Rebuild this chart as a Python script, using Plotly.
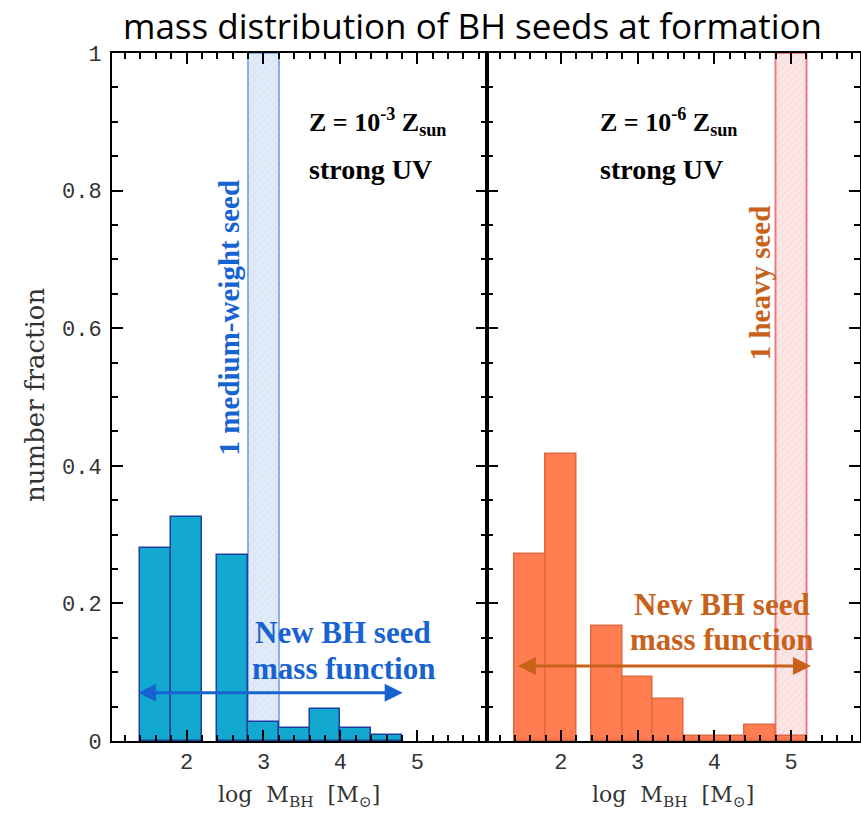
import plotly.graph_objects as go

# --- data -------------------------------------------------------------
bin_width = 0.4

# Z = 1e-3 Zsun, strong UV
left_bin_lo = [1.4, 1.8, 2.4, 2.8, 3.2, 3.6, 4.0, 4.4]
left_frac = [0.280, 0.326, 0.271, 0.028, 0.019, 0.046, 0.019, 0.009]
left_band = [2.8, 3.2]            # single medium-weight seed
left_arrow = [1.35, 4.81, 0.070]  # x from, x to, y

# Z = 1e-6 Zsun, strong UV
right_bin_lo = [1.4, 1.8, 2.4, 2.8, 3.2, 3.6, 4.0, 4.4, 4.8]
right_frac = [0.272, 0.417, 0.167, 0.093, 0.061, 0.008, 0.008, 0.023, 0.008]
right_band = [4.8, 5.2]           # single heavy seed
right_arrow = [1.42, 5.26, 0.109]

x_range = [1.03, 5.9]
y_range = [0, 1]

# --- styles -----------------------------------------------------------
W, H = 861, 814
BLUE_BAR = "#12a8cf"
BLUE_EDGE = "#1e3f9e"
BLUE_TXT = "#1763d1"
BLUE_BAND = "#dde9f7"
BLUE_BAND_EDGE = "#7ea8e3"
ORANGE_BAR = "#ff7d50"
ORANGE_EDGE = "#e0683f"
ORANGE_TXT = "#c8621b"
PINK_BAND = "#fbe4e4"
PINK_BAND_EDGE = "#ec6a72"

SERIF = "Liberation Serif"
AXSERIF = "DejaVu Serif"
TICKFONT = dict(family="Liberation Mono", size=22, color="#333")


def px_x(p):
    return p / W


def px_y(p):
    return 1 - p / H


fig = go.Figure()


def add_panel(xa, ya, lo, frac, band, band_fill, band_edge, bar_fill, bar_edge):
    # shaded band marking the single massive seed
    fig.add_trace(go.Bar(
        x=[(band[0] + band[1]) / 2], y=[y_range[1]], width=[band[1] - band[0]],
        xaxis=xa, yaxis=ya,
        marker=dict(color=band_fill, line=dict(color=band_edge, width=2),
                    pattern=dict(shape="/", fgcolor=band_edge, bgcolor=band_fill,
                                 size=5, solidity=0.08)),
        opacity=0.9, showlegend=False, hoverinfo="skip"))
    # histogram of seed masses
    fig.add_trace(go.Bar(
        x=[v + bin_width / 2 for v in lo], y=frac, width=[bin_width] * len(lo),
        xaxis=xa, yaxis=ya,
        marker=dict(color=bar_fill, line=dict(color=bar_edge, width=1.5)),
        showlegend=False))


add_panel("x", "y", left_bin_lo, left_frac, left_band,
          BLUE_BAND, BLUE_BAND_EDGE, BLUE_BAR, BLUE_EDGE)
add_panel("x2", "y2", right_bin_lo, right_frac, right_band,
          PINK_BAND, PINK_BAND_EDGE, ORANGE_BAR, ORANGE_EDGE)

x_common = dict(range=x_range, tick0=0, dtick=1, ticks="inside", ticklen=11,
                tickwidth=1.5, tickcolor="black", showline=True, linewidth=2,
                linecolor="black", mirror="allticks", showgrid=False,
                zeroline=False, tickfont=TICKFONT, automargin=False,
                minor=dict(dtick=0.2, tick0=0, ticks="inside", ticklen=6,
                           tickwidth=1.5, tickcolor="black"))
y_common = dict(range=y_range, tick0=0, dtick=0.2, ticks="inside", ticklen=11,
                tickwidth=1.5, tickcolor="black", showline=True, linewidth=2,
                linecolor="black", mirror="allticks", showgrid=False,
                zeroline=False, tickfont=TICKFONT, automargin=False,
                minor=dict(dtick=0.05, tick0=0, ticks="inside", ticklen=6,
                           tickwidth=1.5, tickcolor="black"))

y_dom = [px_y(741), px_y(53)]
fig.update_layout(
    width=W, height=H, margin=dict(l=0, r=0, t=0, b=0, pad=0, autoexpand=False),
    paper_bgcolor="white", plot_bgcolor="white",
    barmode="overlay", bargap=0,
    xaxis=dict(domain=[px_x(112), px_x(486.5)], anchor="y", **x_common),
    yaxis=dict(domain=y_dom, anchor="x", ticklabelstandoff=4, **y_common),
    xaxis2=dict(domain=[px_x(486.5), px_x(860)], anchor="y2", **x_common),
    yaxis2=dict(domain=y_dom, anchor="x2", showticklabels=False, **y_common),
)

ann = []
# title
ann.append(dict(text="mass distribution of BH seeds at formation", xref="paper",
                yref="paper", x=px_x(472), y=px_y(26), xanchor="center",
                yanchor="middle", showarrow=False,
                font=dict(family="Open Sans", size=35, color="black")))
# axis titles
ann.append(dict(text="number fraction", xref="paper", yref="paper",
                x=px_x(35), y=px_y(395), xanchor="center", yanchor="middle",
                textangle=-90, showarrow=False,
                font=dict(family=AXSERIF, size=26, color="#333")))
for xd in ["x domain", "x2 domain"]:
    ann.append(dict(text="log  M<sub>BH</sub>  [M<sub>⊙</sub>]", xref=xd,
                    yref="paper", x=0.5, y=px_y(796), xanchor="center",
                    yanchor="middle", showarrow=False,
                    font=dict(family=AXSERIF, size=22, color="#333")))

# panel labels
for xa, ya, x0, metal in [("x", "y", 3.57, "-3"), ("x2", "y2", 2.49, "-6")]:
    ann.append(dict(text=f"<b>Z = 10<sup>{metal}</sup> Z<sub>sun</sub></b>",
                    xref=xa, yref=ya, x=x0, y=0.90, xanchor="left",
                    yanchor="middle", showarrow=False,
                    font=dict(family=SERIF, size=26, color="black")))
    ann.append(dict(text="<b>strong UV</b>", xref=xa, yref=ya, x=x0, y=0.83,
                    xanchor="left", yanchor="middle", showarrow=False,
                    font=dict(family=SERIF, size=28, color="black")))

# vertical seed labels
ann.append(dict(text="<b>1 medium-weight seed</b>", xref="x", yref="y",
                x=2.545, y=0.615, xanchor="center", yanchor="middle",
                textangle=-90, showarrow=False,
                font=dict(family=SERIF, size=29, color=BLUE_TXT)))
ann.append(dict(text="<b>1 heavy seed</b>", xref="x2", yref="y2",
                x=4.59, y=0.666, xanchor="center", yanchor="middle",
                textangle=-90, showarrow=False,
                font=dict(family=SERIF, size=29, color=ORANGE_TXT)))

# mass-function labels and arrows
for xa, ya, xc, y1, y2, arr, col in [
        ("x", "y", 4.04, 0.158, 0.106, left_arrow, BLUE_TXT),
        ("x2", "y2", 4.10, 0.198, 0.147, right_arrow, ORANGE_TXT)]:
    ann.append(dict(text="<b>New BH seed</b>", xref=xa, yref=ya, x=xc, y=y1,
                    xanchor="center", yanchor="middle", showarrow=False,
                    font=dict(family=SERIF, size=31, color=col)))
    ann.append(dict(text="<b>mass function</b>", xref=xa, yref=ya, x=xc, y=y2,
                    xanchor="center", yanchor="middle", showarrow=False,
                    font=dict(family=SERIF, size=31, color=col)))
    ann.append(dict(text="", xref=xa, yref=ya, axref=xa, ayref=ya,
                    x=arr[1], y=arr[2], ax=arr[0], ay=arr[2],
                    showarrow=True, arrowhead=2, arrowside="end+start",
                    arrowsize=1.2, arrowwidth=3, arrowcolor=col))

fig.update_layout(annotations=ann)
fig.write_html("out.html")
